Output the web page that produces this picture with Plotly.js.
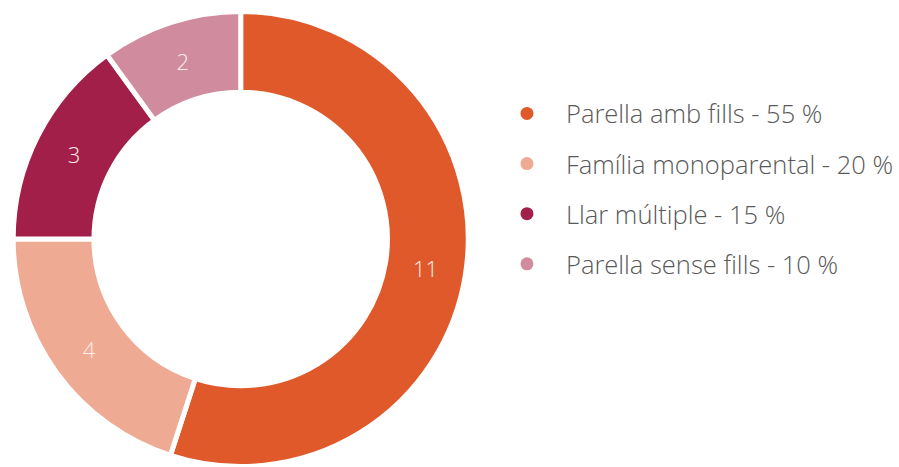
<!DOCTYPE html>
<html>
<head>
<meta charset="utf-8">
<script src="https://cdn.plot.ly/plotly-3.0.1.min.js"></script>
<style>html,body{margin:0;padding:0;background:#fff;}#chart{width:899px;height:467px;}</style>
</head>
<body>
<div id="chart"></div>
<script>
const categories = ["Parella amb fills", "Família monoparental", "Llar múltiple", "Parella sense fills"];
const values = [11, 4, 3, 2];
const colors = ["#E0592A", "#EFAA93", "#A11F49", "#D18B9F"];

const total = values.reduce((a, b) => a + b, 0);
const legendLabels = categories.map((c, i) => c + " - " + Math.round(values[i] / total * 100) + " %");

const pie = {
  type: "pie",
  labels: categories,
  values: values,
  sort: false,
  direction: "clockwise",
  rotation: 0,
  hole: 0.645,
  marker: {colors: colors, line: {color: "#ffffff", width: 5}},
  textinfo: "value",
  textposition: "inside",
  insidetextorientation: "horizontal",
  textfont: {family: "Open Sans", size: 22, weight: 300, color: "#fbeeea"},
  showlegend: false,
  domain: {x: [0.0147, 0.522], y: [0, 1]},
  hoverinfo: "label+value+percent"
};

const legendTraces = categories.map((c, i) => ({
  type: "scatter",
  mode: "markers",
  x: [null], y: [null],
  name: legendLabels[i],
  legendgroup: "g" + i,
  marker: {color: colors[i], size: 13, symbol: "circle"},
  showlegend: true,
  hoverinfo: "skip"
}));

const layout = {
  width: 899, height: 467,
  margin: {l: 0, r: 0, t: 11, b: 0},
  paper_bgcolor: "#ffffff",
  plot_bgcolor: "#ffffff",
  xaxis: {visible: false},
  yaxis: {visible: false},
  showlegend: true,
  legend: {
    x: 0.544, xanchor: "left",
    y: 0.61, yanchor: "middle",
    tracegroupgap: 14,
    font: {family: "Open Sans", size: 25.5, weight: 300, color: "#595959"},
    itemwidth: 68
  }
};

Plotly.newPlot("chart", [pie].concat(legendTraces), layout, {displayModeBar: false, staticPlot: true});
</script>
</body>
</html>
